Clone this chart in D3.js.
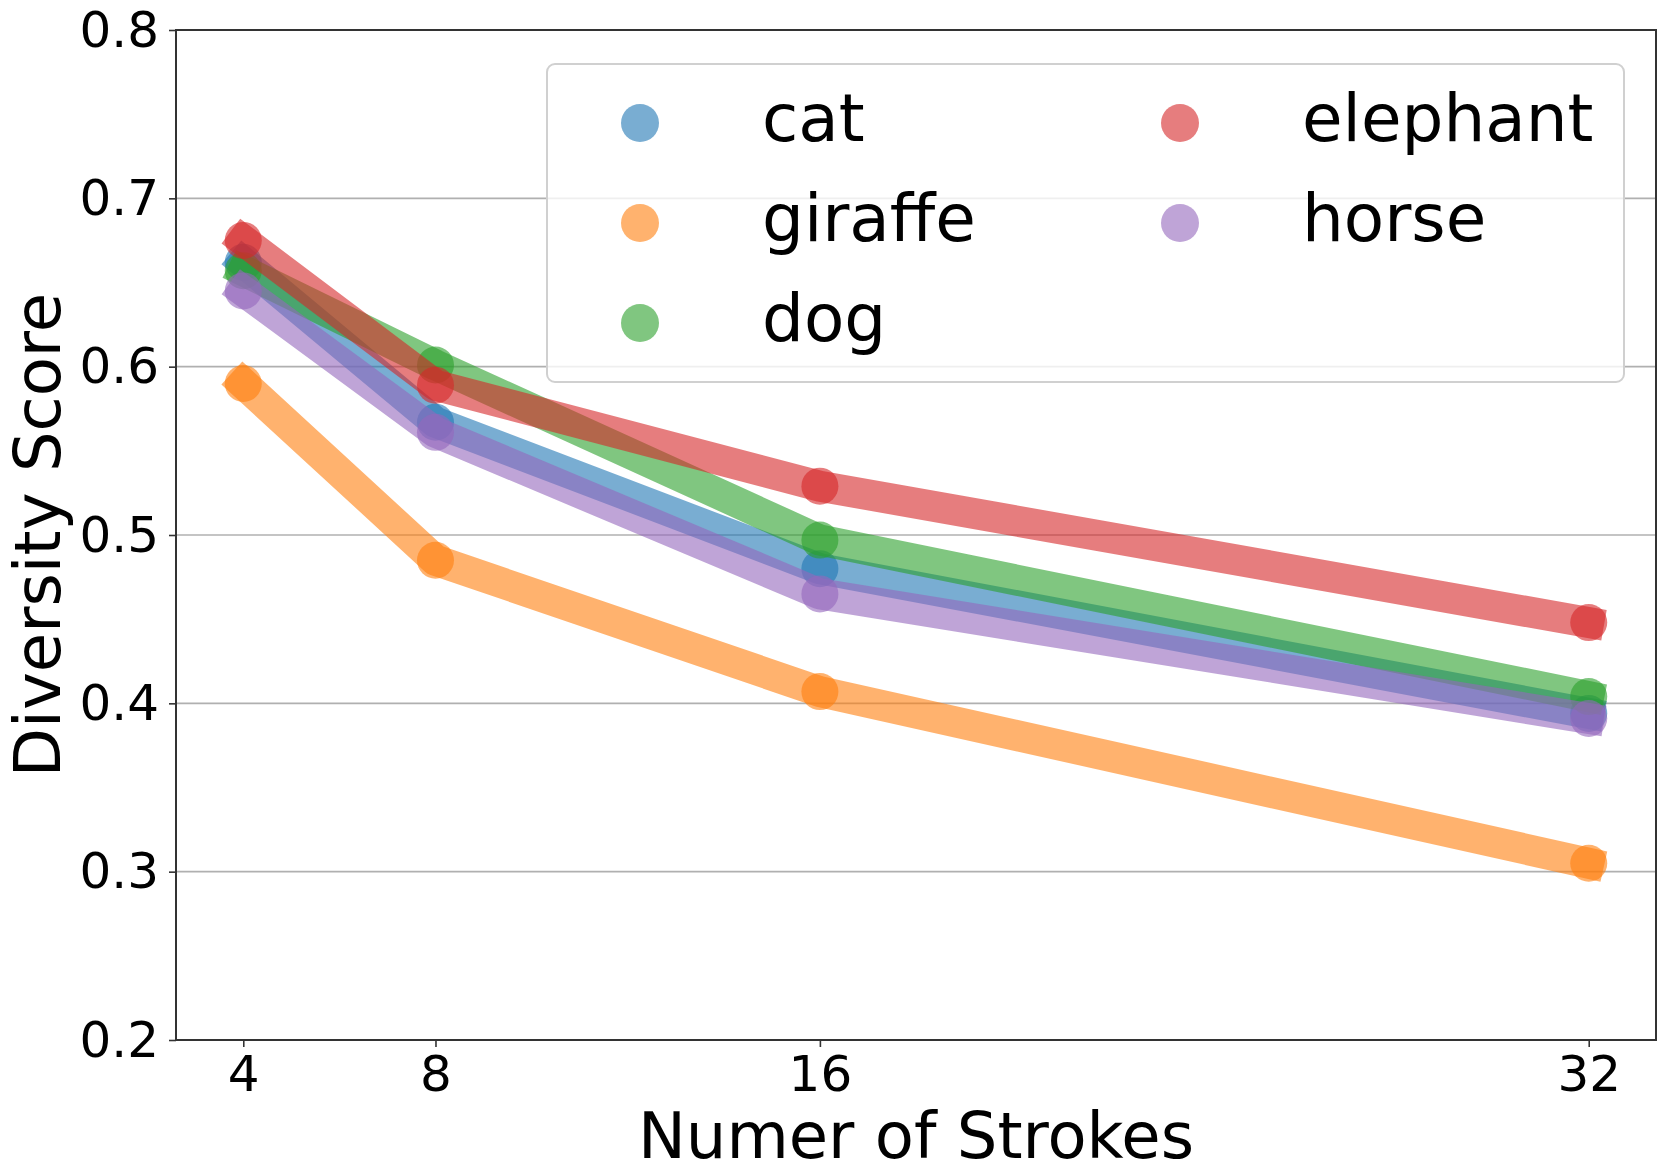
<!DOCTYPE html>
<html>
<head>
<meta charset="utf-8">
<script src="https://cdn.jsdelivr.net/npm/d3@7"></script>
<style>
  body { margin: 0; background: #fff; }
  text { font-family: "DejaVu Sans", sans-serif; fill: #000; }
</style>
</head>
<body>
<script>
// data
const strokes = [4, 8, 16, 32];
const categories = ["cat", "giraffe", "dog", "elephant", "horse"];
const cat = [0.662, 0.567, 0.480, 0.394];
const giraffe = [0.590, 0.485, 0.407, 0.305];
const dog = [0.657, 0.601, 0.497, 0.404];
const elephant = [0.675, 0.589, 0.529, 0.448];
const horse = [0.645, 0.561, 0.465, 0.391];
const colors = ["#1f77b4", "#ff7f0e", "#2ca02c", "#d62728", "#9467bd"];
const yTicks = [0.2, 0.3, 0.4, 0.5, 0.6, 0.7, 0.8];

const series = [cat, giraffe, dog, elephant, horse];

const width = 1661;
const height = 1174;
const plot = { left: 176, right: 1656, top: 30, bottom: 1040 };

const svg = d3.select("body").append("svg")
    .attr("width", width)
    .attr("height", height);

// 5% margins like matplotlib
const x = d3.scaleLinear().domain([2.6, 33.4]).range([plot.left, plot.right]);
const y = d3.scaleLinear().domain([0.2, 0.8]).range([plot.bottom, plot.top]);

// grid lines
svg.append("g")
    .selectAll("line")
    .data(yTicks)
    .join("line")
    .attr("x1", plot.left).attr("x2", plot.right)
    .attr("y1", d => y(d)).attr("y2", d => y(d))
    .attr("stroke", "#b0b0b0")
    .attr("stroke-width", 1.6);

// axes
const xAxis = svg.append("g")
    .attr("transform", `translate(0,${plot.bottom})`)
    .call(d3.axisBottom(x).tickValues(strokes).tickSize(7).tickPadding(8).tickFormat(d3.format("d")));
const yAxis = svg.append("g")
    .attr("transform", `translate(${plot.left},0)`)
    .call(d3.axisLeft(y).tickValues(yTicks).tickSize(7).tickPadding(10).tickFormat(d3.format(".1f")));

[xAxis, yAxis].forEach(a => {
    a.select(".domain").remove();
    a.selectAll(".tick line").attr("stroke", "#333").attr("stroke-width", 1.6);
    a.selectAll(".tick text").style("font-size", "50px").style("font-family", "DejaVu Sans");
});

// frame
svg.append("rect")
    .attr("x", plot.left).attr("y", plot.top)
    .attr("width", plot.right - plot.left)
    .attr("height", plot.bottom - plot.top)
    .attr("fill", "none")
    .attr("stroke", "#333")
    .attr("stroke-width", 2);

// lines + markers
const line = d3.line()
    .x((d, i) => x(strokes[i]))
    .y(d => y(d));

series.forEach((vals, k) => {
    const g = svg.append("g");
    g.append("path")
        .attr("d", line(vals))
        .attr("fill", "none")
        .attr("stroke", colors[k])
        .attr("stroke-width", 31)
        .attr("stroke-linecap", "square")
        .attr("stroke-linejoin", "round")
        .attr("opacity", 0.6);
    g.selectAll("circle")
        .data(vals)
        .join("circle")
        .attr("cx", (d, i) => x(strokes[i]))
        .attr("cy", d => y(d))
        .attr("r", 18.5)
        .attr("fill", colors[k])
        .attr("opacity", 0.6);
});

// axis labels
svg.append("text")
    .attr("x", (plot.left + plot.right) / 2)
    .attr("y", 1158)
    .attr("text-anchor", "middle")
    .style("font-size", "64px")
    .text("Numer of Strokes");

svg.append("text")
    .attr("transform", `translate(60,${(plot.top + plot.bottom) / 2}) rotate(-90)`)
    .attr("text-anchor", "middle")
    .style("font-size", "64px")
    .text("Diversity Score");

// legend (2 columns, column-major)
const legend = svg.append("g");
legend.append("rect")
    .attr("x", 547).attr("y", 64)
    .attr("width", 1077).attr("height", 318)
    .attr("rx", 8)
    .attr("fill", "#fff")
    .attr("fill-opacity", 0.8)
    .attr("stroke", "#d0d0d0")
    .attr("stroke-width", 2);

const colX = [640, 1180];
const rowY = [123, 223, 323];
categories.forEach((name, k) => {
    const col = Math.floor(k / 3);
    const row = k % 3;
    legend.append("circle")
        .attr("cx", colX[col])
        .attr("cy", rowY[row])
        .attr("r", 19)
        .attr("fill", colors[k])
        .attr("opacity", 0.6);
    legend.append("text")
        .attr("x", colX[col] + 122)
        .attr("y", rowY[row] + 18)
        .style("font-size", "66px")
        .text(name);
});
</script>
</body>
</html>
